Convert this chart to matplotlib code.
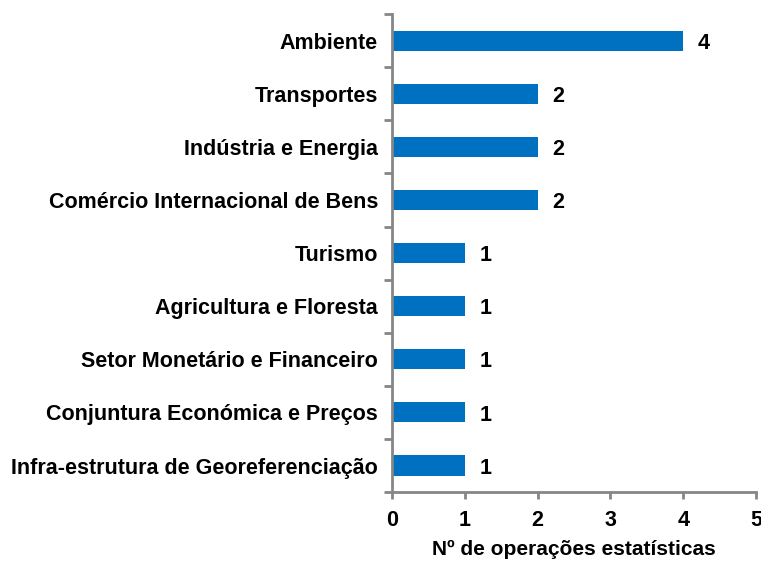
import matplotlib.pyplot as plt
from matplotlib.ticker import FixedLocator

categories = ['Ambiente', 'Transportes', 'Indústria e Energia',
              'Comércio Internacional de Bens', 'Turismo',
              'Agricultura e Floresta', 'Setor Monetário e Financeiro',
              'Conjuntura Económica e Preços',
              'Infra-estrutura de Georeferenciação']
values = [4, 2, 2, 2, 1, 1, 1, 1, 1]

plt.rcParams['font.family'] = ['Liberation Sans', 'DejaVu Sans']
plt.rcParams['font.weight'] = 'bold'

fs = 15.5

fig = plt.figure(figsize=(7.61, 5.63), dpi=100)
ax = fig.add_axes([0.515, 0.126, 0.4785, 0.849])

y = list(range(len(categories)))
ax.barh(y, values, height=0.38, color='#0070C0')
for yi, v in zip(y, values):
    ax.text(v + 0.2, yi + 0.05, str(v), va='center', ha='left', fontsize=fs, fontweight='bold')

ax.set_ylim(len(categories) - 0.5, -0.5)
ax.set_xlim(0, 5)
ax.set_yticks(y)
ax.set_yticklabels(categories, fontsize=fs, fontweight='bold')
ax.yaxis.set_minor_locator(FixedLocator([i - 0.5 for i in range(len(categories) + 1)]))
ax.tick_params(axis='y', which='major', length=0, pad=10)
ax.tick_params(axis='y', which='minor', length=6, width=2, color='#868686')
ax.set_xticks(range(6))
ax.tick_params(axis='x', length=5, width=2, color='#868686', labelsize=fs, pad=8)
for lab in ax.get_xticklabels():
    lab.set_fontweight('bold')
ax.set_xlabel('Nº de operações estatísticas', fontsize=15, fontweight='bold', labelpad=6)

for side in ['top', 'right']:
    ax.spines[side].set_visible(False)
for side in ['left', 'bottom']:
    ax.spines[side].set_color('#868686')
    ax.spines[side].set_linewidth(2)

fig.savefig('out.png', dpi=100)
